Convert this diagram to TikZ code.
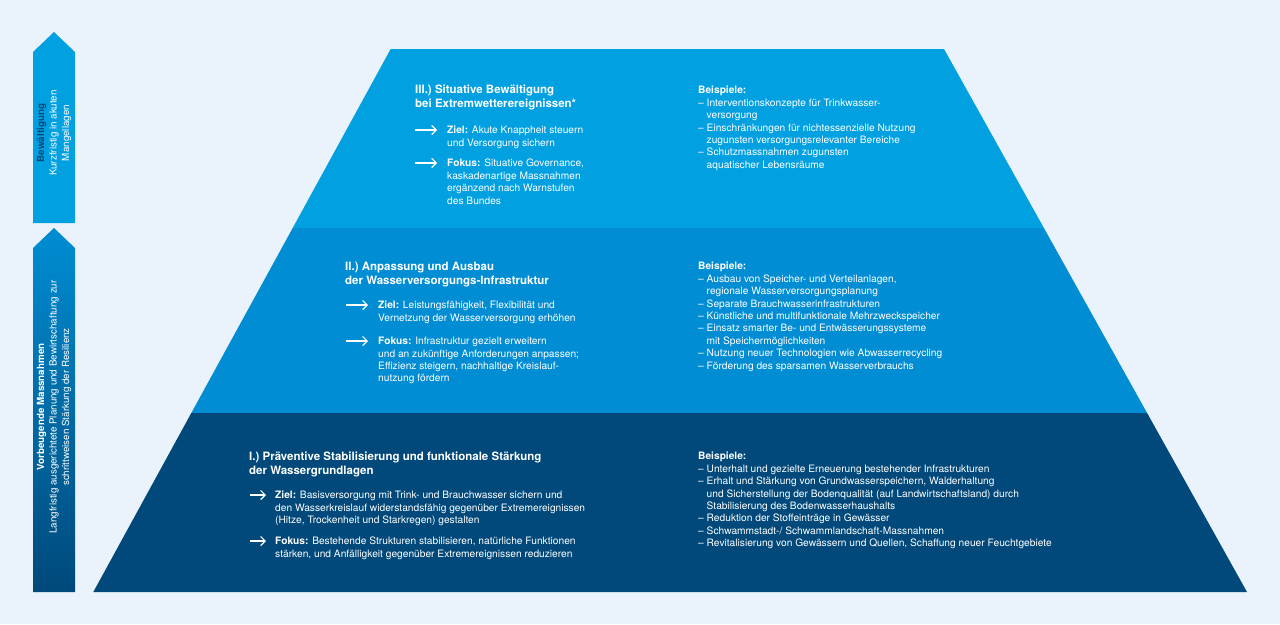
\documentclass[tikz,border=0pt]{standalone}
\usepackage{fontspec}
\setmainfont{TeX Gyre Heros}
\usepackage{xcolor}
\usetikzlibrary{positioning,arrows,arrows.meta}
\definecolor{bg}{HTML}{EAF3FB}
\definecolor{tierthree}{HTML}{00A0E1}
\definecolor{tiertwo}{HTML}{008DD3}
\definecolor{tierone}{HTML}{00497A}
\tikzset{
	heading/.style = {
		anchor=north west, inner sep=0, align=left, text=white, font=\fontsize{11.5}{14}\selectfont\bfseries
	}
}
\tikzset{
	bodytext/.style = {
		anchor=north west, inner sep=0, align=left, text=white, font=\fontsize{10.2}{12.4}\selectfont
	}
}
\tikzset{
	pointer/.style = {
		white, line width=1.2pt, -{Straight Barb[length=4.5pt, width=9pt]}
	}
}
\tikzset{
	sidetext/.style = {
		rotate=90, inner sep=0, align=center, text=white, font=\fontsize{9.8}{12.5}\selectfont
	}
}
\newcommand{\hang}{\hphantom{– }}

\begin{document}
\begin{tikzpicture}[x=1pt, y=-1pt]
	\useasboundingbox (0,0) rectangle (1280,624);
	\fill[bg] (0,0) rectangle (1280,624);

	% pyramid
	\fill[tierthree] (390.7,49) -- (944,49) -- (1043.9,228) -- (292.7,228) -- cycle;
	\fill[tiertwo] (292.7,228) -- (1043.9,228) -- (1147.1,413) -- (191.3,413) -- cycle;
	\fill[tierone] (191.3,413) -- (1147.1,413) -- (1247,592) -- (93.3,592) -- cycle;

	% side arrows
	\fill[tierthree] (33,223) -- (33,52) -- (54,32) -- (75,52) -- (75,223) -- cycle;
	\shade[top color=tiertwo, bottom color=tierone] (33,592) -- (33,248) -- (54,228) -- (75,248) -- (75,592) -- cycle;
	\node[sidetext](sideIII) at (54,133){\textbf{\textcolor{tierone}{Bewältigung}}\\
		Kurzfristig in akuten\\
		Mangellagen};
	\node[sidetext](sideI) at (54,407){\textbf{Vorbeugende Massnahmen}\\
		Langfristig ausgerichtete Planung und Bewirtschaftung zur\\
		schrittweisen Stärkung der Resilienz};

	% tier III
	\node[heading](headIII) at (415,85){III.) Situative Bewältigung\\
		bei Extremwetterereignissen*};
	\node[bodytext](zielIII) at (447,126){\textbf{Ziel:} Akute Knappheit steuern\\
		und Versorgung sichern};
	\node[bodytext](fokusIII) at (447,159){\textbf{Fokus:} Situative Governance,\\
		kaskadenartige Massnahmen\\
		ergänzend nach Warnstufen\\
		des Bundes};
	\node[bodytext](bspIII) at (698,86){\textbf{Beispiele:}\\
		– Interventionskonzepte für Trinkwasser-\\
		\hang versorgung\\
		– Einschränkungen für nichtessenzielle Nutzung\\
		\hang zugunsten versorgungsrelevanter Bereiche\\
		– Schutzmassnahmen zugunsten\\
		\hang aquatischer Lebensräume};
	\draw[pointer] ([xshift=-32,yshift=-4]zielIII.north west) -- ++(22,0);
	\draw[pointer] ([xshift=-32,yshift=-4]fokusIII.north west) -- ++(22,0);

	% tier II
	\node[heading](headII) at (345,262){II.) Anpassung und Ausbau\\
		der Wasserversorgungs-Infrastruktur};
	\node[bodytext](zielII) at (378,301){\textbf{Ziel:} Leistungsfähigkeit, Flexibilität und\\
		Vernetzung der Wasserversorgung erhöhen};
	\node[bodytext](fokusII) at (378,337){\textbf{Fokus:} Infrastruktur gezielt erweitern\\
		und an zukünftige Anforderungen anpassen;\\
		Effizienz steigern, nachhaltige Kreislauf-\\
		nutzung fördern};
	\node[bodytext](bspII) at (698,262){\textbf{Beispiele:}\\
		– Ausbau von Speicher- und Verteilanlagen,\\
		\hang regionale Wasserversorgungsplanung\\
		– Separate Brauchwasserinfrastrukturen\\
		– Künstliche und multifunktionale Mehrzweckspeicher\\
		– Einsatz smarter Be- und Entwässerungssysteme\\
		\hang mit Speichermöglichkeiten\\
		– Nutzung neuer Technologien wie Abwasserrecycling\\
		– Förderung des sparsamen Wasserverbrauchs};
	\draw[pointer] ([xshift=-32,yshift=-4]zielII.north west) -- ++(22,0);
	\draw[pointer] ([xshift=-32,yshift=-4]fokusII.north west) -- ++(22,0);

	% tier I
	\node[heading](headI) at (249,452){I.) Präventive Stabilisierung und funktionale Stärkung\\
		der Wassergrundlagen};
	\node[bodytext](zielI) at (275,491){\textbf{Ziel:} Basisversorgung mit Trink- und Brauchwasser sichern und\\
		den Wasserkreislauf widerstandsfähig gegenüber Extremereignissen\\
		(Hitze, Trockenheit und Starkregen) gestalten};
	\node[bodytext](fokusI) at (275,537){\textbf{Fokus:} Bestehende Strukturen stabilisieren, natürliche Funktionen\\
		stärken, und Anfälligkeit gegenüber Extremereignissen reduzieren};
	\node[bodytext](bspI) at (698,452){\textbf{Beispiele:}\\
		– Unterhalt und gezielte Erneuerung bestehender Infrastrukturen\\
		– Erhalt und Stärkung von Grundwasserspeichern, Walderhaltung\\
		\hang und Sicherstellung der Bodenqualität (auf Landwirtschaftsland) durch\\
		\hang Stabilisierung des Bodenwasserhaushalts\\
		– Reduktion der Stoffeinträge in Gewässer\\
		– Schwammstadt-/ Schwammlandschaft-Massnahmen\\
		– Revitalisierung von Gewässern und Quellen, Schaffung neuer Feuchtgebiete};
	\draw[pointer] ([xshift=-25,yshift=-4]zielI.north west) -- ++(16,0);
	\draw[pointer] ([xshift=-25,yshift=-4]fokusI.north west) -- ++(16,0);
\end{tikzpicture}
\end{document}
